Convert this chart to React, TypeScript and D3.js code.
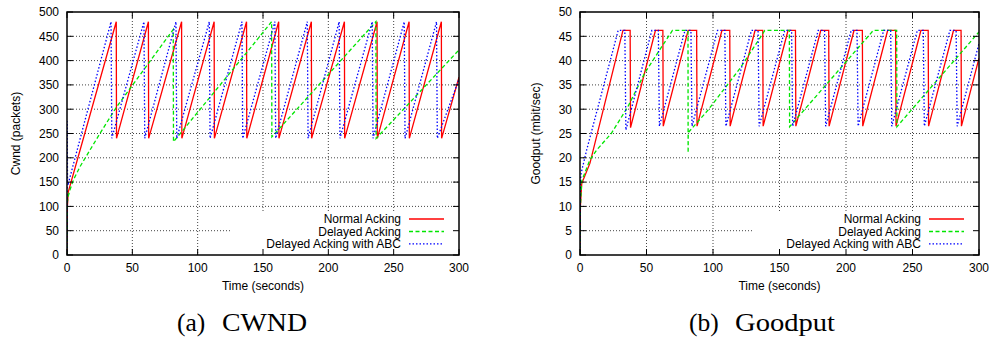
import React from "react";
import * as d3 from "d3";

// ---------- data ----------
const xTicks = [0, 50, 100, 150, 200, 250, 300];
const cwndTicks = [0, 50, 100, 150, 200, 250, 300, 350, 400, 450, 500];
const goodputTicks = [0, 5, 10, 15, 20, 25, 30, 35, 40, 45, 50];
const seriesNames = ["Normal Acking", "Delayed Acking", "Delayed Acking with ABC"];

// CWND (packets) vs time (s)
const cwndNormal: [number, number][] = [
  [0, 0], [0.3, 100], [1, 130], [37.7, 480], [37.9, 240], [62.3, 480], [62.5, 240],
  [87.7, 480], [87.9, 240], [112.6, 480], [112.8, 240], [137.4, 480], [137.6, 240],
  [162.0, 480], [162.2, 240], [187.0, 480], [187.2, 240], [212.3, 480], [212.5, 240],
  [237.3, 480], [237.5, 240], [261.8, 480], [262.0, 240], [286.5, 480], [286.7, 240],
  [300, 366],
];
const cwndDelayed: [number, number][] = [
  [0, 0], [0.3, 110], [1, 122], [2.3, 134], [4.8, 154], [10, 182], [25.2, 250], [38, 305],
  [81.3, 464], [81.5, 233], [140.1, 425], [156.6, 480], [156.8, 243], [236.4, 480],
  [236.6, 240], [254.8, 292], [300, 422],
];
const cwndABC: [number, number][] = [
  [0, 0], [0.15, 275], [0.4, 150], [1, 147], [33.7, 480], [34.3, 240], [58.9, 480],
  [59.5, 240], [83.4, 480], [84.0, 240], [108.9, 480], [109.5, 240], [133.9, 480],
  [134.5, 240], [159.1, 480], [159.7, 240], [183.9, 480], [184.5, 240], [208.3, 480],
  [208.9, 240], [233.6, 480], [234.2, 240], [258.1, 480], [258.7, 240], [282.8, 480],
  [283.4, 240], [300, 362],
];

// Goodput (mbit/sec) vs time (s)
const goodputNormal: [number, number][] = [
  [0, 0], [0.3, 10], [1.3, 14.7], [7.5, 18.9], [32.3, 46.2], [37.7, 46.2], [38.0, 26.2],
  [56.7, 46.2], [62.3, 46.2], [62.6, 26.5], [81.3, 46.2], [87.7, 46.2], [88.0, 26.5],
  [106.7, 46.2], [112.6, 46.2], [112.9, 26.5], [131.6, 46.2], [137.4, 46.2], [137.7, 26.5],
  [156.4, 46.2], [162.0, 46.2], [162.3, 26.5], [181.0, 46.2], [187.0, 46.2], [187.3, 26.5],
  [206.0, 46.2], [212.3, 46.2], [212.6, 26.5], [231.3, 46.2], [237.3, 46.2], [237.6, 26.5],
  [256.3, 46.2], [261.8, 46.2], [262.1, 26.5], [280.8, 46.2], [286.5, 46.2], [286.8, 26.5],
  [300, 40.5],
];
const goodputDelayed: [number, number][] = [
  [0, 0], [0.3, 10], [1.3, 15.2], [7.3, 19.5], [12.5, 21.6], [23.5, 25], [36, 30.5],
  [48.6, 37.4], [59.9, 42.2], [69.5, 46.2], [81.2, 46.2], [81.3, 21], [81.4, 25.2],
  [96.2, 29.8], [120.3, 38.4], [139, 46.2], [157.4, 46.2], [157.6, 26.4], [220.5, 46.2],
  [238.1, 46.2], [238.3, 26.4], [300, 45.9],
];
const goodputABC: [number, number][] = [
  [0, 0], [0.2, 15], [1, 17], [5, 21.6], [28.7, 46.2], [33.7, 46.2], [34.5, 25.7],
  [54.0, 46.2], [58.9, 46.2], [59.7, 26.5], [78.9, 46.2], [83.4, 46.2], [84.2, 26.5],
  [103.4, 46.2], [108.9, 46.2], [109.7, 26.5], [128.9, 46.2], [133.9, 46.2], [134.7, 26.5],
  [153.9, 46.2], [159.1, 46.2], [159.9, 26.5], [179.1, 46.2], [183.9, 46.2], [184.7, 26.5],
  [203.9, 46.2], [208.3, 46.2], [209.1, 26.5], [228.3, 46.2], [233.6, 46.2], [234.4, 26.5],
  [253.6, 46.2], [258.1, 46.2], [258.9, 26.5], [278.1, 46.2], [282.8, 46.2], [283.6, 26.5],
  [300, 43.5],
];

// ---------- styles ----------
const COLORS = ["#ff0000", "#00e600", "#0000ff"];
const DASHES = [undefined, "4,2.5", "1.5,2"];
const SANS = "'Liberation Sans', Arial, Helvetica, sans-serif";
const SERIF = "'Liberation Serif', 'Times New Roman', serif";

type Series = [number, number][];

interface ChartProps {
  id: string;
  left: number;
  right: number;
  top: number;
  bottom: number;
  yMax: number;
  yTicks: number[];
  yLabel: string;
  yLabelX: number;
  series: Series[];
  capTag: string;
  capTagX: number;
  capText: string;
  capTextX: number;
  capTextLen: number;
}

function Chart(p: ChartProps) {
  const x = d3.scaleLinear().domain([0, 300]).range([p.left, p.right]);
  const y = d3.scaleLinear().domain([0, p.yMax]).range([p.bottom, p.top]);
  const line = d3
    .line<[number, number]>()
    .x((d) => x(d[0]))
    .y((d) => y(d[1]));
  const keyMaskX = p.right - 227;
  const keyMaskY = 212;
  const textEnd = p.right - 58;
  const lineX1 = p.right - 50;
  const lineX2 = p.right - 15;
  const rowBase = [223, 235.5, 247.8];
  const cx = (p.left + p.right) / 2;
  const cy = (p.top + p.bottom) / 2;
  return (
    <g>
      <defs>
        <clipPath id={`clip-${p.id}`}>
          <rect x={p.left} y={p.top} width={p.right - p.left} height={p.bottom - p.top} />
        </clipPath>
      </defs>
      {/* grid */}
      <g stroke="#444" strokeWidth={1} strokeDasharray="1,2">
        {xTicks.slice(1, -1).map((t) => (
          <line
            key={`gx${t}`}
            x1={x(t)}
            x2={x(t)}
            y1={p.top}
            y2={x(t) > keyMaskX ? keyMaskY : p.bottom}
          />
        ))}
        {p.yTicks.slice(1, -1).map((t) => (
          <line
            key={`gy${t}`}
            x1={p.left}
            x2={y(t) > keyMaskY ? keyMaskX : p.right}
            y1={y(t)}
            y2={y(t)}
          />
        ))}
      </g>
      {/* data */}
      <g clipPath={`url(#clip-${p.id})`}>
        {p.series.map((s, i) => (
          <path
            key={i}
            d={line(s) || ""}
            fill="none"
            stroke={COLORS[i]}
            strokeWidth={1.3}
            strokeDasharray={DASHES[i]}
            strokeLinejoin="miter"
          />
        ))}
      </g>
      {/* ticks */}
      <g stroke="#000" strokeWidth={1}>
        {xTicks.map((t) => (
          <g key={`tx${t}`}>
            <line x1={x(t)} x2={x(t)} y1={p.bottom} y2={p.bottom - 6} />
            <line x1={x(t)} x2={x(t)} y1={p.top} y2={p.top + 6} />
          </g>
        ))}
        {p.yTicks.map((t) => (
          <g key={`ty${t}`}>
            <line x1={p.left} x2={p.left + 6} y1={y(t)} y2={y(t)} />
            <line x1={p.right} x2={p.right - 6} y1={y(t)} y2={y(t)} />
          </g>
        ))}
      </g>
      <rect
        x={p.left}
        y={p.top}
        width={p.right - p.left}
        height={p.bottom - p.top}
        fill="none"
        stroke="#000"
        strokeWidth={1.5}
      />
      {/* tick labels */}
      <g fontFamily={SANS} fontSize={12} fill="#000">
        {xTicks.map((t) => (
          <text key={`lx${t}`} x={x(t)} y={271.5} textAnchor="middle">
            {t}
          </text>
        ))}
        {p.yTicks.map((t) => (
          <text key={`ly${t}`} x={p.left - 8} y={y(t) + 4.3} textAnchor="end">
            {t}
          </text>
        ))}
        <text x={cx} y={290} textAnchor="middle">
          Time (seconds)
        </text>
        <text
          transform={`translate(${p.yLabelX},${cy}) rotate(-90)`}
          textAnchor="middle"
        >
          {p.yLabel}
        </text>
      </g>
      {/* legend */}
      <g fontFamily={SANS} fontSize={12} fill="#000">
        {seriesNames.map((n, i) => (
          <g key={n}>
            <text x={textEnd} y={rowBase[i]} textAnchor="end">
              {n}
            </text>
            <line
              x1={lineX1}
              x2={lineX2}
              y1={rowBase[i] - 4}
              y2={rowBase[i] - 4}
              stroke={COLORS[i]}
              strokeWidth={1.3}
              strokeDasharray={DASHES[i]}
            />
          </g>
        ))}
      </g>
      {/* caption */}
      <g fontFamily={SERIF} fontSize={25.5} fill="#000">
        <text x={p.capTagX} y={331}>
          {p.capTag}
        </text>
        <text x={p.capTextX} y={331} textLength={p.capTextLen} lengthAdjust="spacingAndGlyphs">
          {p.capText}
        </text>
      </g>
    </g>
  );
}

export default function App() {
  return (
    <svg
      width={992}
      height={338}
      viewBox="0 0 992 338"
      style={{ position: "absolute", left: 0, top: 0, background: "#fff" }}
    >
      <rect x={0} y={0} width={992} height={338} fill="#fff" />
      <Chart
        id="cwnd"
        left={67}
        right={459}
        top={12}
        bottom={255}
        yMax={500}
        yTicks={cwndTicks}
        yLabel="Cwnd (packets)"
        yLabelX={20}
        series={[cwndNormal, cwndDelayed, cwndABC]}
        capTag="(a)"
        capTagX={177}
        capText="CWND"
        capTextX={222}
        capTextLen={85}
      />
      <Chart
        id="goodput"
        left={580}
        right={979}
        top={12}
        bottom={255}
        yMax={50}
        yTicks={goodputTicks}
        yLabel="Goodput (mbit/sec)"
        yLabelX={540}
        series={[goodputNormal, goodputDelayed, goodputABC]}
        capTag="(b)"
        capTagX={689}
        capText="Goodput"
        capTextX={735}
        capTextLen={100}
      />
    </svg>
  );
}
